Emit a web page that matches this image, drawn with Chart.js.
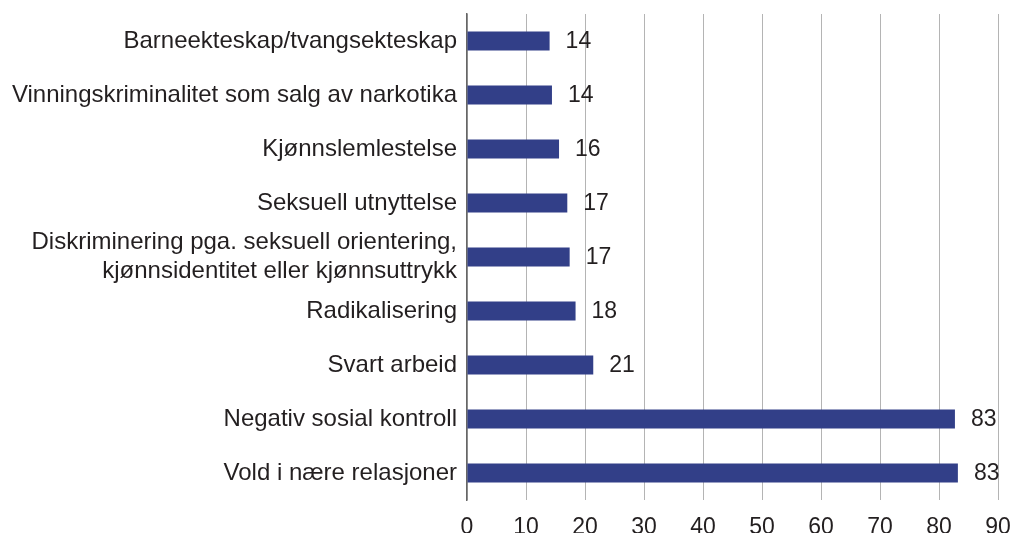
<!DOCTYPE html>
<html>
<head>
<meta charset="utf-8">
<script src="https://cdn.jsdelivr.net/npm/chart.js@4"></script>
<style>
html,body{margin:0;padding:0;background:#fff;}
#wrap{width:1011px;height:533px;position:relative;}
#probe{position:absolute;left:-9999px;font-family:'Liberation Sans';font-size:21px;}
</style>
</head>
<body>
<div id="probe">Liberation probe</div>
<div id="wrap"><canvas id="c" width="1011" height="533"></canvas></div>
<script>
const categories = [
  "Barneekteskap/tvangsekteskap",
  "Vinningskriminalitet som salg av narkotika",
  "Kjønnslemlestelse",
  "Seksuell utnyttelse",
  ["Diskriminering pga. seksuell orientering,", "kjønnsidentitet eller kjønnsuttrykk"],
  "Radikalisering",
  "Svart arbeid",
  "Negativ sosial kontroll",
  "Vold i nære relasjoner"
];
const values = [14.0, 14.4, 15.6, 17.0, 17.4, 18.4, 21.4, 82.7, 83.2];
const xTicks = [0, 10, 20, 30, 40, 50, 60, 70, 80, 90];

const FONT = "'Liberation Sans'";
const TEXT = "#231f20";

const valueLabels = {
  id: 'valueLabels',
  afterDatasetsDraw(chart) {
    const ctx = chart.ctx;
    const meta = chart.getDatasetMeta(0);
    ctx.save();
    ctx.font = "23px " + FONT;
    ctx.fillStyle = TEXT;
    ctx.textAlign = 'left';
    ctx.textBaseline = 'middle';
    meta.data.forEach((bar, i) => {
      ctx.fillText(String(Math.round(values[i])), bar.x + 16, bar.y + 1);
    });
    ctx.restore();
  }
};

function build() {
  new Chart(document.getElementById('c'), {
    type: 'bar',
    data: {
      labels: categories,
      datasets: [{
        data: values,
        backgroundColor: '#323f88',
        borderWidth: 0,
        barPercentage: 0.35,
        categoryPercentage: 1.0
      }]
    },
    options: {
      indexAxis: 'y',
      responsive: false,
      animation: false,
      devicePixelRatio: 1,
      layout: { padding: { top: 14, right: 0, left: 0, bottom: 0 } },
      plugins: { legend: { display: false }, tooltip: { enabled: false } },
      scales: {
        x: {
          min: 0, max: 90,
          afterBuildTicks(scale) { scale.ticks = xTicks.map(v => ({ value: v })); },
          grid: { color: '#b4b4b4', lineWidth: 1, drawTicks: false },
          border: { display: false },
          ticks: { color: TEXT, font: { family: FONT, size: 23 }, padding: 14, maxRotation: 0 },
          afterFit(scale) { scale.height = 33; scale.paddingLeft = 0; scale.paddingRight = 13; }
        },
        y: {
          grid: { display: false, drawTicks: false },
          border: { display: true, color: '#666666', width: 1.5 },
          ticks: { color: TEXT, font: { family: FONT, size: 24, lineHeight: 1.2 }, padding: 10, autoSkip: false },
          afterFit(scale) { scale.width = 467; scale.paddingTop = 0; scale.paddingBottom = 0; }
        }
      }
    },
    plugins: [valueLabels]
  });
}
if (document.fonts && document.fonts.load) {
  document.fonts.load("21px 'Liberation Sans'").then(build, build);
} else { build(); }
</script>
</body>
</html>
